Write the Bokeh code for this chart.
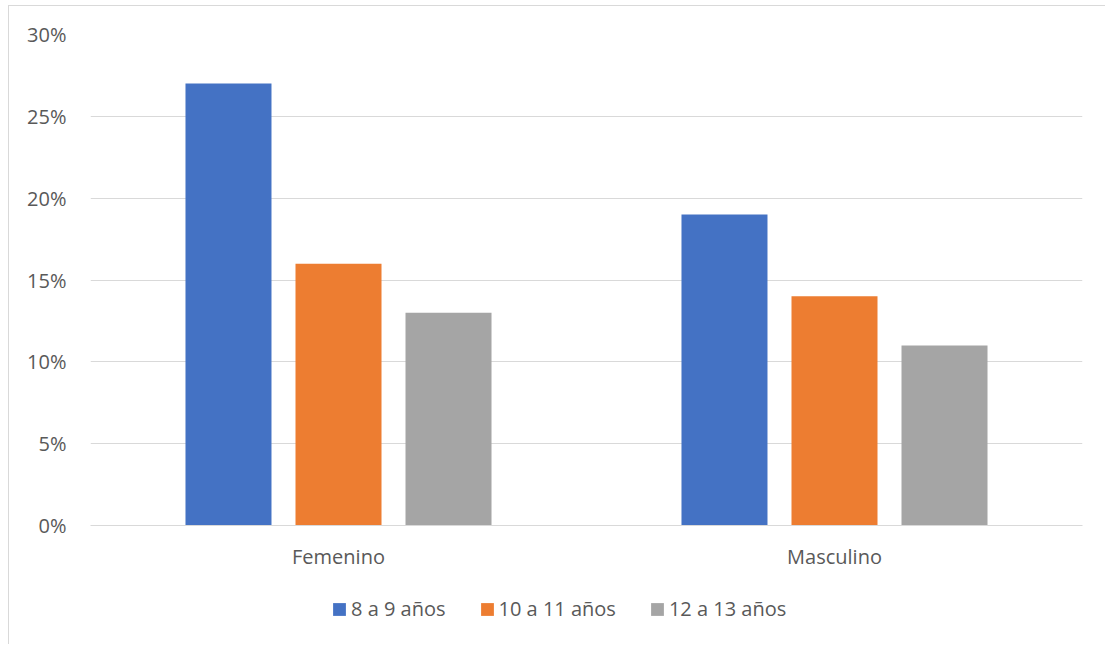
from bokeh.plotting import figure
from bokeh.layouts import column
from bokeh.models import FactorRange, Range1d, NumeralTickFormatter, FixedTicker, Legend, LegendItem, ColumnDataSource
from bokeh.transform import dodge
from bokeh.embed import file_html
from bokeh.resources import INLINE

categories = ["Femenino", "Masculino"]
series_names = ["8 a 9 años", "10 a 11 años", "12 a 13 años"]
v_8_9 = [0.27, 0.19]
v_10_11 = [0.16, 0.14]
v_12_13 = [0.13, 0.11]
colors = ["#4472C4", "#ED7D31", "#A5A5A5"]
y_ticks = [0, 0.05, 0.10, 0.15, 0.20, 0.25, 0.30]

FONT = "Open Sans"
TXT = "#595959"
FS = "20px"
BORDER = "1px solid #d9d9d9"

src = ColumnDataSource(dict(cat=categories, s0=v_8_9, s1=v_10_11, s2=v_12_13))
keys = ["s0", "s1", "s2"]
offsets = [-0.2218, 0.0, 0.2218]

p = figure(width=1097, height=585, x_range=FactorRange(*categories, range_padding=0),
           y_range=Range1d(0, 0.30), output_backend="svg", toolbar_location=None,
           min_border_left=81, min_border_right=24, min_border_top=28, min_border_bottom=66)
p.margin = (5, 0, 0, 8)
p.styles = {"border-left": BORDER, "border-top": BORDER}
p.outline_line_color = None
p.background_fill_color = "white"
p.border_fill_color = "white"

for i, key in enumerate(keys):
    p.vbar(x=dodge("cat", offsets[i], range=p.x_range), top=key, width=0.1734,
           source=src, fill_color=colors[i], line_color=None)

p.yaxis.ticker = FixedTicker(ticks=y_ticks)
p.yaxis.formatter = NumeralTickFormatter(format="0%")
p.yaxis.axis_line_color = None
p.yaxis.major_tick_line_color = None
p.yaxis.minor_tick_line_color = None
p.yaxis.major_label_text_font = FONT
p.yaxis.major_label_text_font_size = FS
p.yaxis.major_label_text_color = TXT
p.yaxis.major_label_standoff = 18

p.xaxis.axis_line_color = "#d9d9d9"
p.xaxis.major_tick_line_color = None
p.xaxis.minor_tick_line_color = None
p.xaxis.major_label_text_font = FONT
p.xaxis.major_label_text_font_size = FS
p.xaxis.major_label_text_color = TXT
p.xaxis.major_label_standoff = 11

p.xgrid.grid_line_color = None
p.ygrid.grid_line_color = "#d9d9d9"
p.ygrid.grid_line_width = 1
p.ygrid.ticker = FixedTicker(ticks=y_ticks)

# legend strip below the chart (its bars lie outside its visible y range)
lg = figure(width=1097, height=54, x_range=FactorRange(*categories, range_padding=0),
            y_range=Range1d(1, 2), output_backend="svg", toolbar_location=None,
            x_axis_location=None, y_axis_location=None, min_border=0)
lg.margin = (0, 0, 0, 8)
lg.styles = {"border-left": BORDER}
lg.outline_line_color = None
lg.xgrid.visible = False
lg.ygrid.visible = False
lrs = [lg.vbar(x=dodge("cat", offsets[i], range=lg.x_range), top=keys[i], width=0.1734,
               source=src, fill_color=colors[i], line_color=None)
       for i in range(3)]

legend = Legend(items=[LegendItem(label=series_names[i], renderers=[lrs[i]]) for i in range(3)],
                orientation="horizontal", location=(241, 22), padding=0, margin=0,
                spacing=33, glyph_width=16, glyph_height=16, label_standoff=4,
                label_text_font=FONT, label_text_font_size=FS, label_text_color=TXT,
                border_line_color=None, background_fill_alpha=0)
lg.add_layout(legend, "center")

layout = column(p, lg, spacing=0)
open("out.html", "w").write(file_html(layout, INLINE))
